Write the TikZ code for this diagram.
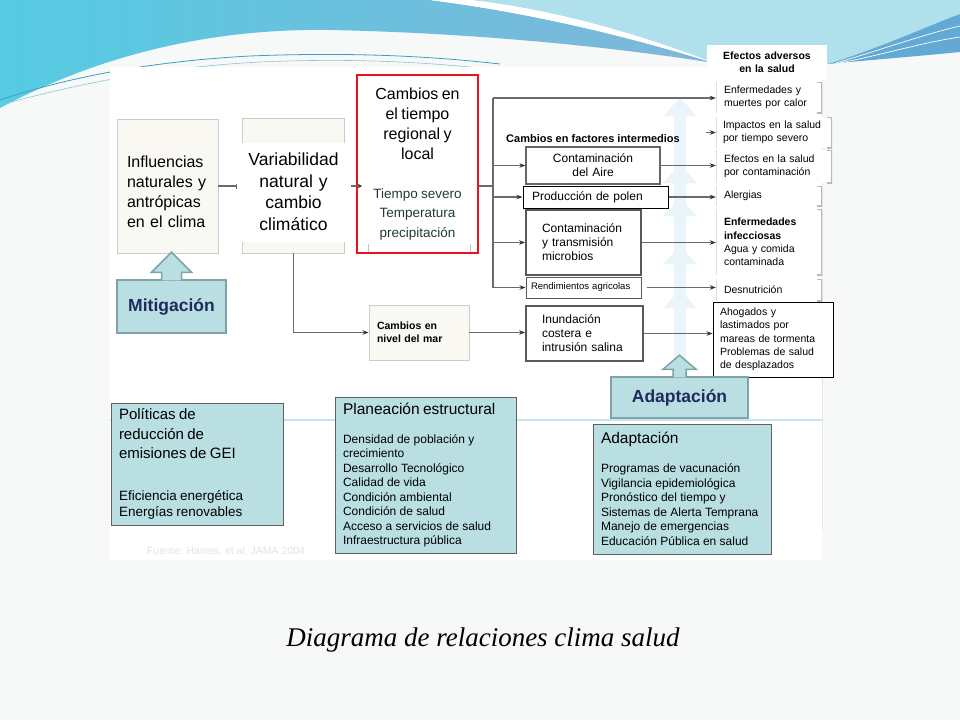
\documentclass[tikz,border=0pt]{standalone}
\usepackage{fontspec}
\setmainfont{Liberation Sans}
\newfontfamily\captionserif{Liberation Serif}
\usetikzlibrary{arrows.meta, positioning, calc}
\definecolor{paper}{HTML}{F7F8F8}
\definecolor{skyL}{HTML}{56CBE3}
\definecolor{skyM}{HTML}{7FB6D8}
\definecolor{skyR}{HTML}{B0E0EC}
\definecolor{wedge}{HTML}{62A9D3}
\definecolor{swirl}{HTML}{3E9EC2}
\definecolor{tealbox}{HTML}{B9DFE3}
\definecolor{tealedge}{HTML}{7FA3A6}
\definecolor{navytxt}{HTML}{1F2A5C}
\definecolor{cream}{HTML}{FAF8F2}
\definecolor{lnk}{HTML}{6A6A6A}
\definecolor{tipgray}{HTML}{333333}
\definecolor{wxred}{HTML}{E8131B}
\definecolor{wxtext}{HTML}{203A3A}
\definecolor{paleup}{HTML}{EAF5FB}
\definecolor{guide}{HTML}{C6E3EF}
\newcommand{\fsz}[2]{\fontsize{#1pt}{#2pt}\selectfont}

\begin{document}
\begin{tikzpicture}[x=1pt, y=-1pt,
  plain/.style={draw=lnk, line width=1.2pt},
  link/.style={plain, -{Stealth[length=6pt, width=4.5pt, color=tipgray]}},
  softbox/.style={draw=gray!40, line width=0.9pt, fill=cream},
  midbox/.style={draw=#1, fill=white, align=left, font=\fsz{12}{14}},
  fxbox/.style={fill=white, align=left, font=\fsz{10.5}{13.3}, inner xsep=8pt,
    path picture={
      \draw[gray!25, line width=1pt] (path picture bounding box.north west) -- (path picture bounding box.south west);
      \draw[gray!55, line width=1.6pt] ([xshift=-5pt]path picture bounding box.north east) -- (path picture bounding box.north east)
        -- (path picture bounding box.south east) -- ([xshift=-5pt]path picture bounding box.south east);
    }},
  panel/.style={fill=tealbox, draw=gray!75!black, line width=0.8pt, align=left, inner xsep=8pt},
  blockbox/.style={fill=tealbox, draw=tealedge, line width=1.5pt, font=\bfseries\fsz{17.5}{20}, text=navytxt},
  blockarrow/.style={fill=tealbox, draw=tealedge, line width=1.5pt, line join=miter}]
\useasboundingbox (0,0) rectangle (960,720);

% Background
\fill[paper] (0,0) rectangle (960,720);

% Sky band with swooshes
\shade[left color=skyL, right color=skyM] (0,0) -- (430,0) .. controls (540,14) and (640,40) .. (714,63)
  .. controls (620,48) and (480,33) .. (330,30) .. controls (200,28) and (90,60) .. (0,108) -- cycle;
\fill[skyR] (470,0) -- (960,0) -- (960,14) .. controls (930,25) and (880,48) .. (828,64) -- (714,63)
  .. controls (650,38) and (560,10) .. (470,0) -- cycle;
\fill[white] (430,0) .. controls (540,14) and (640,40) .. (714,63) .. controls (650,38) and (560,10) .. (470,0) -- cycle;
\fill[wedge] (828,64) .. controls (880,48) and (930,25) .. (960,14) -- (960,52) .. controls (920,56) and (870,60) .. (828,64) -- cycle;
\draw[white, line width=0.7pt] (836,63) .. controls (880,50) and (925,34) .. (960,26);
\draw[white, line width=0.7pt] (840,63) .. controls (885,54) and (925,42) .. (960,37);
\draw[swirl, line width=0.8pt] (0,100) .. controls (60,80) and (140,62) .. (250,56) .. controls (350,52) and (430,56) .. (500,64);
\draw[swirl!60, line width=0.6pt] (0,105) .. controls (70,86) and (150,68) .. (260,62) .. controls (350,58) and (420,62) .. (480,68);

% Diagram sheet
\fill[white] (110,67) rectangle (822,560);
\draw[gray!18] (822,67) -- (822,530);
\draw[guide, line width=1.5pt] (110,420) -- (822,420);

% Faint upward arrows behind the links
\fill[paleup] (674,110) rectangle (686,372);
\foreach \tip in {98,165,198,246,290} {
  \fill[paleup] (680,\tip) -- (697,\tip+18) -- (663,\tip+18) -- cycle;
}

% Climate chain
\node[softbox, minimum width=101pt, minimum height=134pt, text width=81pt, inner xsep=10pt, align=left,
      font=\fsz{16}{20}] (infl) at (167.5,186) {\rule{0pt}{24pt}Influencias\\naturales y\\antrópicas\\en el clima};
\node[fill=cream, minimum width=101pt, minimum height=134pt, text width=97pt, inner xsep=2pt, align=center,
      font=\fsz{17.5}{21.5},
      path picture={\fill[white] ([yshift=-24pt]path picture bounding box.north west) rectangle ([yshift=11pt]path picture bounding box.south east);}]
  (vari) at (293.5,186) {\rule{0pt}{24pt}Variabilidad\\natural y\\cambio\\climático};
\draw[gray!40, line width=0.9pt] ([yshift=-24pt]vari.north west) -- (vari.north west) -- (vari.north east) -- ([yshift=-24pt]vari.north east);
\draw[gray!40, line width=0.9pt] ([yshift=11pt]vari.south west) -- (vari.south west) -- (vari.south east) -- ([yshift=11pt]vari.south east);
\node[draw=wxred, line width=2pt, fill=white, minimum width=121pt, minimum height=178pt, text width=115pt,
      inner xsep=3pt, align=center] (weather) at (417.5,164)
  {{\fsz{16}{20}Cambios en\\el tiempo\\regional y\\local\par}\vspace{19pt}{\fsz{13.5}{19.5}\color{wxtext}Tiempo severo\\Temperatura\\precipitación\par}};
\draw[gray!45, line width=0.8pt] ($(weather.south west)+(12pt,2pt)$) -- ++(0pt,8pt);
\draw[gray!45, line width=0.8pt] ($(weather.south east)+(-9pt,2pt)$) -- ++(0pt,8pt);
\node[softbox, minimum width=100pt, minimum height=55pt, text width=84pt, inner xsep=8pt, align=left,
      font=\bfseries\fsz{10.5}{13}] (sea) at (419,332.5) {Cambios en\\nivel del mar};

% Intermediate factors
\node[font=\bfseries\fsz{11}{13}] (midlbl) at (593,139) {Cambios en factores intermedios};
\node[midbox=gray!80!black, line width=1.3pt, minimum width=134pt, minimum height=37pt, text width=128pt,
      inner xsep=3pt, align=center] (air) at (593,165.5) {Contaminación\\del Aire};
\node[midbox=black, line width=1pt, minimum width=145pt, minimum height=22pt, text width=127pt,
      inner xsep=9pt] (pollen) at (595.5,197) {Producción de polen};
\node[midbox=gray!70!black, line width=1.8pt, minimum width=115pt, minimum height=65pt, text width=83pt,
      inner xsep=16pt] (microbe) at (583.5,242.5) {Contaminación\\y transmisión\\microbios};
\node[midbox=gray!70!black, line width=1pt, minimum width=115pt, minimum height=21pt, text width=105pt,
      inner xsep=5pt, font=\fsz{9.5}{11}] (crops) at (583.5,287.5) {Rendimientos agricolas};
\node[midbox=gray!70!black, line width=1.8pt, minimum width=117pt, minimum height=55pt, text width=85pt,
      inner xsep=16pt] (flood) at (584.5,333.5) {Inundación\\costera e\\intrusión salina};

% Adverse health effects
\node[fill=white, minimum width=120pt, minimum height=35pt, text width=114pt, inner xsep=3pt, align=center,
      font=\bfseries\fsz{10.5}{13}] (effhead) at (767,62.5) {Efectos adversos\\en la salud};
\node[fxbox, minimum width=106pt, minimum height=31pt, text width=90pt] (heat) at (769,97.5)
  {Enfermedades y\\muertes por calor};
\node[fxbox, minimum width=116pt, minimum height=31pt, text width=102pt, inner xsep=7pt] (severe) at (774,132.5)
  {Impactos en la salud\\por tiempo severo};
\node[fxbox, minimum width=116pt, minimum height=33pt, text width=100pt] (pollut) at (774,166.5)
  {Efectos en la salud\\por contaminación};
\node[fxbox, minimum width=106pt, minimum height=20pt, text width=90pt] (allerg) at (769,196) {Alergias};
\node[fxbox, minimum width=106pt, minimum height=66pt, text width=90pt] (infect) at (769,242)
  {\textbf{Enfermedades}\\\textbf{infecciosas}\\Agua y comida\\contaminada};
\node[fxbox, minimum width=106pt, minimum height=22pt, text width=90pt] (malnut) at (769,290) {Desnutrición};
\node[draw=black, line width=0.9pt, fill=white, align=left, font=\fsz{10.5}{13.3}, minimum width=120pt,
      minimum height=75pt, text width=106pt, inner xsep=7pt] (drown) at (773,339.5)
  {Ahogados y\\lastimados por\\mareas de tormenta\\Problemas de salud\\de desplazados};

% Links
\coordinate (bus) at (493,186);
\coordinate (bustop) at (493,98);
\coordinate (busbot) at (493,287.5);
\coordinate (sevstart) at (706,132.5);
\draw[plain, -{Bar[width=5pt]}] (infl.east) -- ($(vari.west)+(-6,0)$);
\draw[plain, -{Stealth[length=4pt, width=4pt, color=tipgray]}] ($(vari.east)+(7,0)$) -- ($(weather.west |- vari.east)+(6,0)$);
\draw[plain] (weather.east |- vari.east) -- (bus);
\draw[plain] (bustop) -- (busbot);
\draw[link] (bustop) -- (bustop -| heat.west);
\draw[link] (sevstart) -- (severe.west);
\draw[link] (bus |- air.west) -- (air.west);
\draw[link] (bus |- pollen.west) -- (pollen.west);
\draw[link] (bus |- microbe.west) -- (microbe.west);
\draw[link] (busbot) -- (crops.west);
\draw[link] (air.east) -- (air.east -| pollut.west);
\draw[link] (pollen.east) -- (pollen.east -| allerg.west);
\draw[link] (microbe.east) -- (microbe.east -| infect.west);
\draw[link, shorten <=5pt] (crops.east) -- (crops.east -| malnut.west);
\draw[link] (flood.east) -- (flood.east -| drown.west);
\draw[link] (vari.south) |- (sea.west);
\draw[link] (sea.east) -- (sea.east -| flood.west);

% Mitigation and adaptation blocks
\node[blockbox, minimum width=109pt, minimum height=53pt] (mitig) at (171.5,306.5) {Mitigación};
\filldraw[blockarrow] ($(mitig.north)+(-10,1)$) -- ($(mitig.north)+(-10,-7)$) -- ($(mitig.north)+(-20,-7)$)
  -- ($(mitig.north)+(0,-27)$) -- ($(mitig.north)+(20,-7)$) -- ($(mitig.north)+(10,-7)$) -- ($(mitig.north)+(10,1)$);
\node[blockbox, minimum width=137pt, minimum height=41pt] (adaptblk) at (679.5,397.5) {Adaptación};
\filldraw[blockarrow] ($(adaptblk.north)+(-6.5,1)$) -- ($(adaptblk.north)+(-6.5,-7)$) -- ($(adaptblk.north)+(-16.5,-7)$)
  -- ($(adaptblk.north)+(0,-21)$) -- ($(adaptblk.north)+(16.5,-7)$) -- ($(adaptblk.north)+(6.5,-7)$) -- ($(adaptblk.north)+(6.5,1)$);

% Policy panels
\node[panel, minimum width=172pt, minimum height=122pt, text width=156pt] (policy) at (197,464)
  {{\fsz{15}{19.5}Políticas de\\reducción de\\emisiones de GEI\par}\vspace{26pt}{\fsz{13.5}{16}Eficiencia energética\\Energías renovables\par}};
\node[panel, minimum width=181pt, minimum height=156pt, text width=165pt] (planning) at (425.5,475)
  {{\fsz{15.5}{19}Planeación estructural\par}\vspace{14.5pt}{\fsz{12}{14.5}Densidad de población y\\crecimiento\\Desarrollo  Tecnológico\\Calidad de vida\\Condición ambiental\\Condición de salud\\Acceso a servicios de salud\\Infraestructura pública\par}};
\node[panel, minimum width=178pt, minimum height=130pt, text width=162pt] (adapt) at (682,489)
  {{\fsz{15.5}{19}Adaptación\par}\vspace{14.5pt}{\fsz{12}{14.5}Programas de vacunación\\Vigilancia epidemiológica\\Pronóstico del tiempo y\\Sistemas de Alerta Temprana\\Manejo de emergencias\\Educación Pública en salud\par}};

% Source and caption
\node[font=\fsz{10.5}{12}, text=gray!22] (source) at (226,551) {Fuente: Haines, et al, JAMA 2004};
\node[font=\captionserif\itshape\fsz{27}{30}] (caption) at (483,640) {Diagrama de relaciones clima salud};

\end{tikzpicture}
\end{document}
